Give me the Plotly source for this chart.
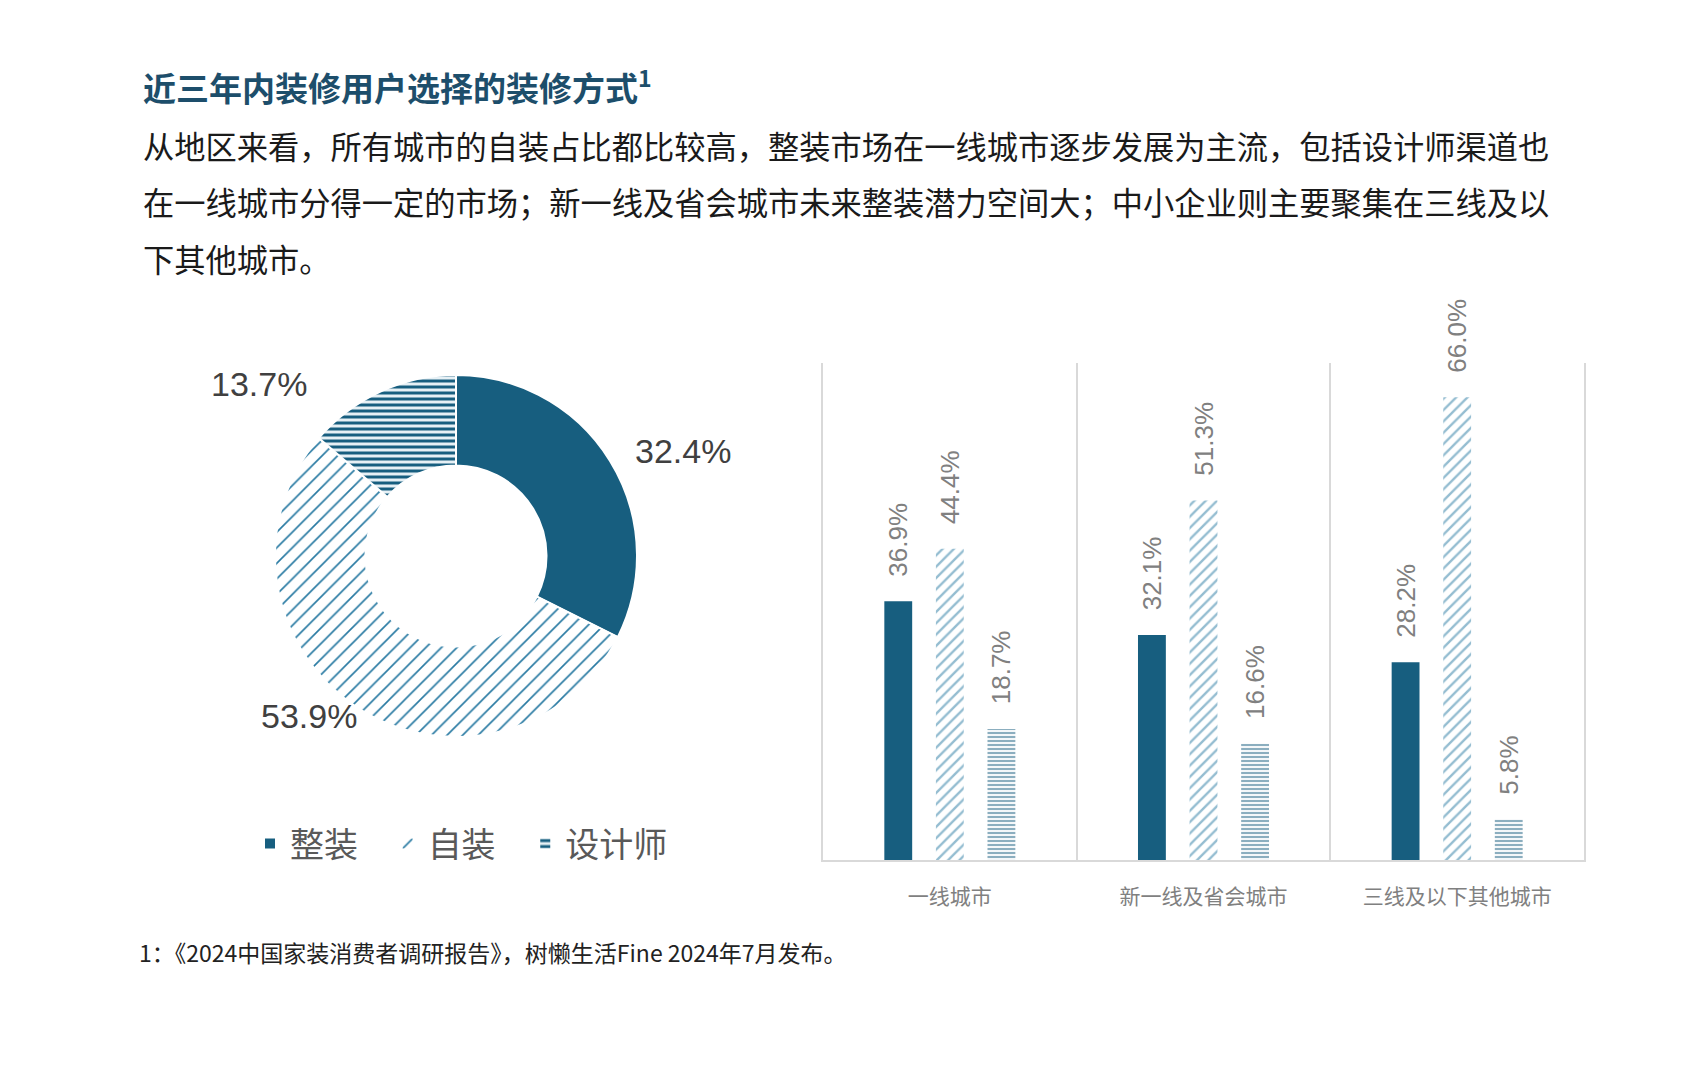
import plotly.graph_objects as go

# ---------------- data ----------------
donut_labels = ["整装", "自装", "设计师"]
donut_values = [32.4, 53.9, 13.7]

cities = ["一线城市", "新一线及省会城市", "三线及以下其他城市"]
zhuangzhuang = [36.9, 32.1, 28.2]   # 整装
zizhuang = [44.4, 51.3, 66.0]       # 自装
shejishi = [18.7, 16.6, 5.8]        # 设计师

title_text = "近三年内装修用户选择的装修方式<sup>1</sup>"
para_lines = [
    "从地区来看，所有城市的自装占比都比较高，整装市场在一线城市逐步发展为主流，包括设计师渠道也",
    "在一线城市分得一定的市场；新一线及省会城市未来整装潜力空间大；中小企业则主要聚集在三线及以",
    "下其他城市。",
]
footnote = "1：《2024中国家装消费者调研报告》，树懒生活Fine 2024年7月发布。"

# ---------------- styles ----------------
W, H = 1684, 1080
BLUE = "#175E7F"
LIGHT = "#2A7BA3"
CJK = "Noto Sans CJK SC"
NUM = "Liberation Sans, Noto Sans CJK SC"

def px_x(x):
    return x / W

def px_y(y):
    return 1 - y / H

fig = go.Figure()

pie_patterns = [
    dict(shape="", fgcolor=BLUE, bgcolor=BLUE),
    dict(shape="/", fgcolor=LIGHT, bgcolor="white", size=11, solidity=0.15),
    dict(shape="-", fgcolor=BLUE, bgcolor="#e6f0f5", size=6, solidity=0.5),
]
pie_colors = [BLUE, "white", "#e6f0f5"]

# legend labels with a little trailing spacing (visual gap between entries)
legend_labels = [lab + "\u2002\u00a0" for lab in donut_labels]

fig.add_trace(go.Pie(
    labels=legend_labels,
    values=donut_values,
    hole=0.5,
    sort=False,
    direction="clockwise",
    rotation=0,
    textinfo="none",
    marker=dict(
        colors=pie_colors,
        line=dict(color="white", width=2),
        pattern=dict(
            shape=[p["shape"] for p in pie_patterns],
            fgcolor=[p["fgcolor"] for p in pie_patterns],
            bgcolor=[p["bgcolor"] for p in pie_patterns],
            size=[p.get("size", 8) for p in pie_patterns],
            solidity=[p.get("solidity", 0.5) for p in pie_patterns],
        ),
    ),
    domain=dict(x=[px_x(275), px_x(637)], y=[px_y(737), px_y(375)]),
    showlegend=True,
))

bar_common = dict(
    x=cities,
    textposition="outside",
    textangle=-90,
    cliponaxis=False,
    constraintext="none",
    texttemplate="\u00a0\u00a0\u00a0%{y:.1f}%",
    textfont=dict(family=NUM, size=26, color="#808080"),
    showlegend=False,
    xaxis="x",
    yaxis="y",
)

fig.add_trace(go.Bar(
    y=zhuangzhuang, name="整装",
    marker=dict(color=BLUE, line=dict(width=0)),
    **bar_common,
))
fig.add_trace(go.Bar(
    y=zizhuang, name="自装",
    marker=dict(color="white", line=dict(width=0),
                pattern=dict(shape="/", fgcolor=LIGHT, bgcolor="white", size=8, solidity=0.3)),
    **bar_common,
))
fig.add_trace(go.Bar(
    y=shejishi, name="设计师",
    marker=dict(color="white", line=dict(width=0),
                pattern=dict(shape="-", fgcolor=BLUE, bgcolor="white", size=4, solidity=0.55)),
    **bar_common,
))

annotations = []
annotations.append(dict(
    text=title_text, xref="paper", yref="paper", x=px_x(141), y=px_y(86),
    xanchor="left", yanchor="middle", showarrow=False,
    font=dict(family=CJK, size=33, color="#1D4E6B", weight="bold"),
))
for i, line in enumerate(para_lines):
    annotations.append(dict(
        text=line, xref="paper", yref="paper", x=px_x(141), y=px_y(145 + 56.5 * i),
        xanchor="left", yanchor="middle", showarrow=False,
        font=dict(family=CJK, size=31.25, color="#1a1a1a"),
    ))
annotations.append(dict(
    text=footnote, xref="paper", yref="paper", x=px_x(137), y=px_y(952),
    xanchor="left", yanchor="middle", showarrow=False,
    font=dict(family=CJK, size=23, color="#222222"),
))

# donut percentage labels
donut_label_pos = [(683, 451), (309, 716), (259, 384)]
for v, (lx, ly) in zip(donut_values, donut_label_pos):
    annotations.append(dict(
        text=f"{v:.1f}%", xref="paper", yref="paper", x=px_x(lx), y=px_y(ly),
        xanchor="center", yanchor="middle", showarrow=False,
        font=dict(family=NUM, size=34, color="#404040"),
    ))

fig.update_layout(
    width=W, height=H,
    margin=dict(l=0, r=0, t=0, b=0),
    paper_bgcolor="white",
    plot_bgcolor="white",
    barmode="group",
    bargap=0.39,
    bargroupgap=0.46,
    annotations=annotations,
    legend=dict(
        orientation="h",
        x=px_x(250), y=px_y(844),
        xanchor="left", yanchor="middle",
        font=dict(family=CJK, size=34, color="#595959"),
        itemwidth=30,
        traceorder="normal",
    ),
    xaxis=dict(
        domain=[px_x(823), px_x(1584)],
        type="category",
        tickson="boundaries",
        showgrid=True, gridcolor="#d9d9d9", gridwidth=2,
        showline=True, linecolor="#d9d9d9", linewidth=2,
        ticks="", ticklabelstandoff=17,
        tickfont=dict(family=CJK, size=21, color="#808080"),
        zeroline=False,
    ),
    yaxis=dict(
        domain=[px_y(860), px_y(363)],
        range=[0, 70.9],
        showgrid=False, zeroline=False,
        showticklabels=False, ticks="",
        showline=True, mirror=True, linecolor="#d9d9d9", linewidth=2,
    ),
)

fig.write_html("out.html")
